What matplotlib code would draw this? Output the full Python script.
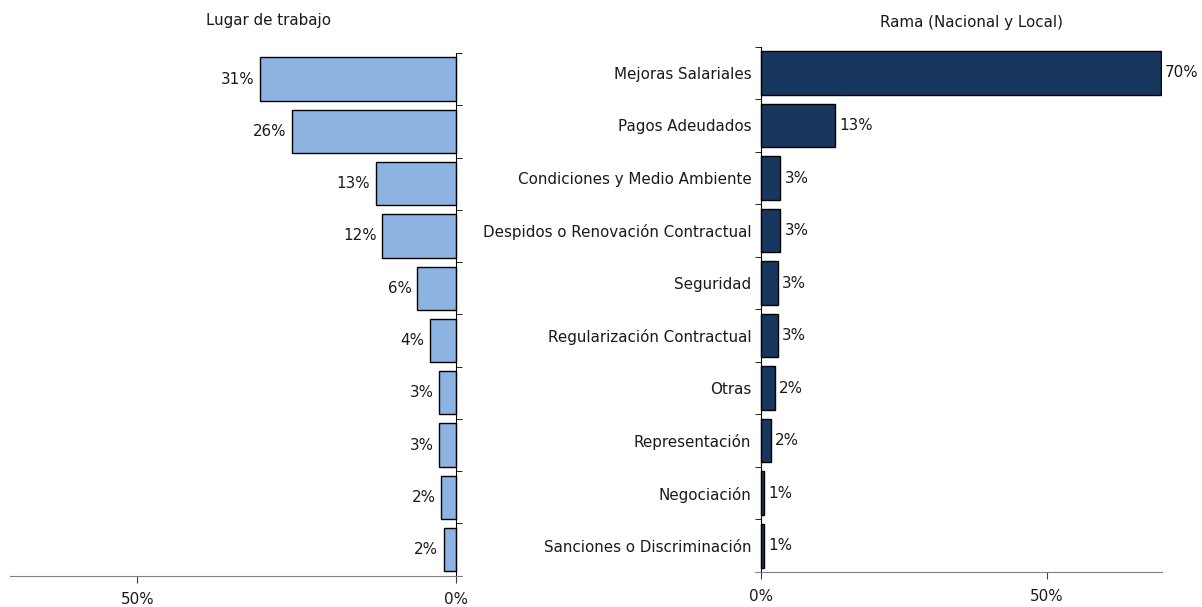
import matplotlib
matplotlib.use("Agg")
import matplotlib.pyplot as plt
import numpy as np

plt.rcParams['font.family'] = ['DejaVu Sans']

left_title = "Lugar de trabajo"
left_values = [30.8, 25.7, 12.6, 11.6, 6.1, 4.1, 2.6, 2.6, 2.3, 1.9]

right_title = "Rama (Nacional y Local)"
right_categories = ["Mejoras Salariales", "Pagos Adeudados", "Condiciones y Medio Ambiente",
                    "Despidos o Renovación Contractual", "Seguridad", "Regularización Contractual",
                    "Otras", "Representación", "Negociación", "Sanciones o Discriminación"]
right_values = [70.0, 12.9, 3.4, 3.4, 2.9, 2.9, 2.4, 1.7, 0.6, 0.6]

x_ticks = [0, 50]
x_ticklabels = ["0%", "50%"]

W, H = 1202, 607
fig = plt.figure(figsize=(W / 100, H / 100), dpi=100)

def px_axes(x0, x1, ytop, ybot):
    return fig.add_axes([x0 / W, 1 - ybot / H, (x1 - x0) / W, (ybot - ytop) / H])

FS = 10.9
TXT = '#1a1a1a'
n = len(left_values)
pos = np.arange(n)

# Left panel
axL = px_axes(10, 461, 53, 575.7)
barsL = axL.barh(pos, left_values, height=0.83, color="#8DB3E2", edgecolor="black", linewidth=1.0)
axL.set_xlim(70.0, -0.785)
axL.set_ylim(n - 0.5, -0.5)
axL.spines['top'].set_visible(False)
axL.spines['left'].set_visible(False)
axL.spines['right'].set_position(('data', 0))
axL.spines['right'].set_color('black')
axL.spines['bottom'].set_color('#808080')
axL.yaxis.tick_right()
axL.set_yticks(pos)
axL.set_yticklabels([])
axL.tick_params(axis='y', which='major', length=0)
axL.set_yticks(np.arange(-0.5, n, 1.0), minor=True)
axL.tick_params(axis='y', which='minor', length=4, direction='out', color='black', right=True, left=False)
axL.set_xticks(x_ticks)
axL.set_xticklabels(x_ticklabels, fontsize=FS, color=TXT)
axL.tick_params(axis='x', length=5, color='#404040', pad=7)
axL.bar_label(barsL, labels=[f"{round(v)}%" for v in left_values], padding=4, fontsize=FS, color=TXT)
fig.text(268 / W, 1 - 20 / H, left_title, ha='center', va='center', fontsize=FS, color=TXT)

# Right panel
axR = px_axes(756, 1162, 46.7, 572)
barsR = axR.barh(pos, right_values, height=0.83, color="#17375E", edgecolor="black", linewidth=1.0)
axR.set_xlim(-0.875, 70.2)
axR.set_ylim(n - 0.5, -0.5)
axR.spines['top'].set_visible(False)
axR.spines['right'].set_visible(False)
axR.spines['left'].set_position(('data', 0))
axR.spines['left'].set_color('black')
axR.spines['bottom'].set_color('#808080')
axR.set_yticks(pos)
axR.set_yticklabels(right_categories, fontsize=FS, color=TXT)
axR.tick_params(axis='y', which='major', length=0, pad=7)
axR.set_yticks(np.arange(-0.5, n, 1.0), minor=True)
axR.tick_params(axis='y', which='minor', length=4, direction='out', color='black')
axR.set_xticks(x_ticks)
axR.set_xticklabels(x_ticklabels, fontsize=FS, color=TXT)
axR.tick_params(axis='x', length=5, color='#404040', pad=7)
axR.bar_label(barsR, labels=[f"{round(v)}%" for v in right_values], padding=3, fontsize=FS, color=TXT)
fig.text(972 / W, 1 - 23 / H, right_title, ha='center', va='center', fontsize=FS, color=TXT)

fig.savefig("out.png", dpi=100)
